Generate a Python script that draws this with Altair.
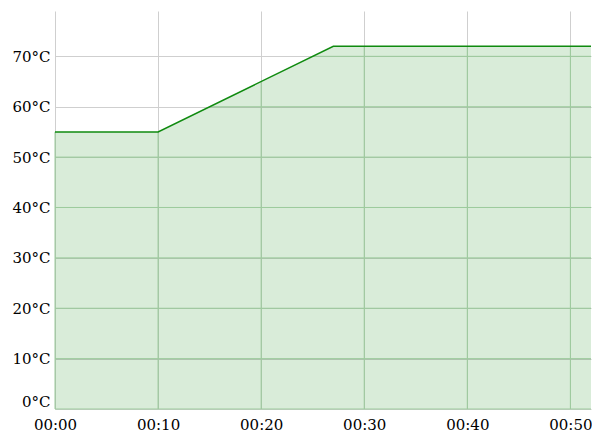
import altair as alt
import numpy as np
import pandas as pd

minutes = [0, 10, 27, 52]
temps = [55, 55, 72, 72]
x_ticks = [0, 10, 20, 30, 40, 50]
y_ticks = [0, 10, 20, 30, 40, 50, 60, 70]

df = pd.DataFrame({"t": minutes, "temp": temps})

# grid segments that lie inside the filled area (drawn tinted green)
vgrid = pd.DataFrame({"t": x_ticks, "y0": 0,
                      "y1": np.interp(x_ticks, minutes, temps)})
hstart = []
for v in y_ticks:
    hstart.append(float(np.interp(v, temps[1:3], minutes[1:3])) if v > temps[0] else minutes[0])
hgrid = pd.DataFrame({"v": y_ticks, "x0": hstart, "x1": minutes[-1]})

FONT = "DejaVu Serif"
xs = alt.Scale(domain=[0, 52], nice=False, zero=False)
ys = alt.Scale(domain=[0, 79], nice=False)
GRID_IN = "#9dcb9d"

xaxis = alt.Axis(values=x_ticks, title=None, domain=False, ticks=False,
                 labelExpr='"00:" + (datum.value < 10 ? "0" : "") + datum.value',
                 labelPadding=8, labelFlush=False)
yaxis = alt.Axis(values=y_ticks, title=None, domain=False, ticks=False,
                 labelExpr='datum.value + "°C"', labelPadding=5, labelFlush=True)

area = alt.Chart(df).mark_area(color="green", fillOpacity=0.15).encode(
    x=alt.X("t:Q", scale=xs, axis=xaxis),
    y=alt.Y("temp:Q", scale=ys, axis=yaxis),
)

vrules = alt.Chart(vgrid).mark_rule(color=GRID_IN, strokeWidth=1).encode(
    x=alt.X("t:Q", scale=xs, axis=xaxis),
    y=alt.Y("y0:Q", scale=ys, axis=yaxis),
    y2="y1:Q",
)
hrules = alt.Chart(hgrid).mark_rule(color=GRID_IN, strokeWidth=1).encode(
    y=alt.Y("v:Q", scale=ys, axis=yaxis),
    x=alt.X("x0:Q", scale=xs, axis=xaxis),
    x2="x1:Q",
)
line = alt.Chart(df).mark_line(color="#0f8a0f", strokeWidth=1.5).encode(
    x=alt.X("t:Q", scale=xs, axis=xaxis),
    y=alt.Y("temp:Q", scale=ys, axis=yaxis),
)

chart = alt.layer(area, vrules, hrules, line).properties(
    width=536, height=398,
    autosize=alt.AutoSizeParams(type="none"),
    padding={"left": 47, "top": 3, "right": 1, "bottom": 30},
).configure_axis(
    labelFont=FONT, labelFontSize=15, labelColor="#000",
    gridColor="#cfcfcf", gridWidth=1, gridOpacity=1,
).configure_view(stroke=None)

chart.save("out.html", embed_options={"renderer": "svg", "actions": False})
